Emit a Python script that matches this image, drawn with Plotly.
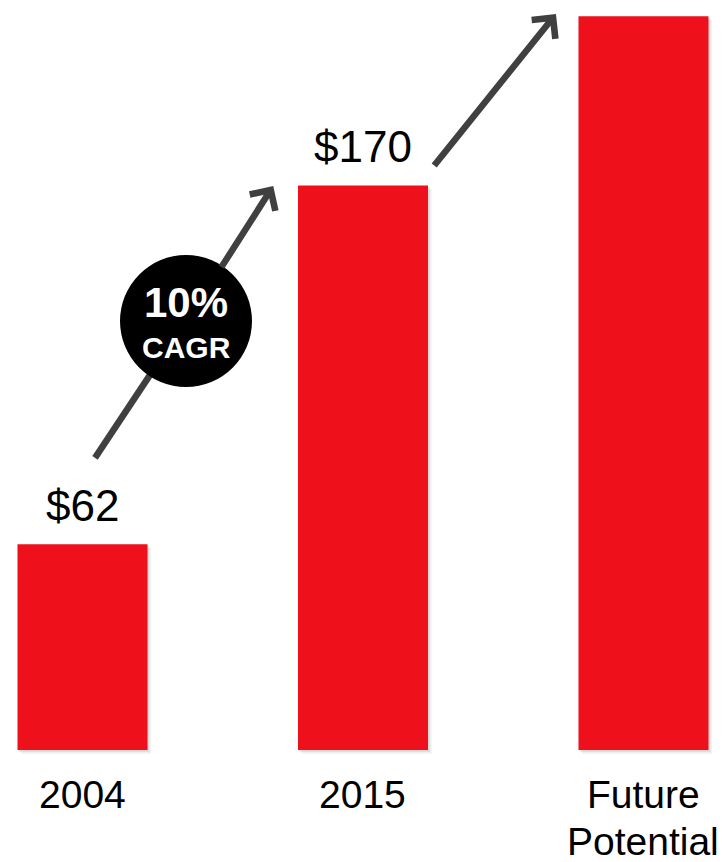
import plotly.graph_objects as go

# Revenue by period ($)
categories = ["2004", "2015", "Future Potential"]
revenue = [62, 170, 221]
value_labels = ["$62", "$170", ""]
cagr_lines = ["10%", "CAGR"]

BAR_RED = "#EE111B"
ARROW_GREY = "#404040"
FONT = "Liberation Sans, Arial, sans-serif"

W, H = 722, 862
X_RANGE = [-0.2941, 2.2799]
Y_RANGE = [-3, 225.9]
BAR_W = 0.4635

x = list(range(len(categories)))

fig = go.Figure()

# faint drop shadow under each bar
for dx, dy, alpha in [(0.013, -1.1, 0.06), (0.006, -0.5, 0.10)]:
    fig.add_bar(
        x=x, y=revenue, base=dy, width=BAR_W, offset=-BAR_W / 2 + dx,
        marker=dict(color=f"rgba(0,0,0,{alpha})", line_width=0),
        hoverinfo="skip", showlegend=False,
    )

fig.add_bar(
    x=x, y=revenue, width=BAR_W, offset=-BAR_W / 2,
    marker=dict(color=BAR_RED, line_width=0),
    hovertemplate="%{y}<extra></extra>", showlegend=False,
)

# value labels above the bars
for i, t in enumerate(value_labels):
    if t:
        fig.add_annotation(
            x=i, y=revenue[i], text=t, showarrow=False,
            yanchor="middle", yshift=39,
            font=dict(family=FONT, size=44, color="#000000"),
        )

# category labels under the baseline (one annotation per line)
for i, c in enumerate(categories):
    for j, line in enumerate(c.split(" ")):
        fig.add_annotation(
            x=i, y=0, text=line, showarrow=False,
            yanchor="middle", yshift=-44 - j * 47,
            font=dict(family=FONT, size=39, color="#000000"),
        )

# growth arrows: tail/tip positions in data units
arrow1_tail, arrow1_tip = (0.0446, 88.0), (0.680, 169.9)
badge_center = (0.369, 129.2)
badge_edge = (0.492, 145.0)
arrow2_tail, arrow2_tip = (1.2496, 175.6), (1.688, 221.7)

# lower part of the first arrow runs underneath the badge
fig.add_shape(
    type="line", xref="x", yref="y",
    x0=arrow1_tail[0], y0=arrow1_tail[1], x1=badge_edge[0], y1=badge_edge[1],
    line=dict(color=ARROW_GREY, width=6.5),
)
fig.add_shape(
    type="circle", xref="x", yref="y",
    xsizemode="pixel", ysizemode="pixel",
    xanchor=badge_center[0], yanchor=badge_center[1],
    x0=-66, x1=66, y0=-66, y1=66,
    fillcolor="#000000", line=dict(color="#000000", width=0),
)

for tail, tip in [(badge_edge, arrow1_tip), (arrow2_tail, arrow2_tip)]:
    fig.add_annotation(
        x=tip[0], y=tip[1], ax=tail[0], ay=tail[1],
        xref="x", yref="y", axref="x", ayref="y",
        text="", showarrow=True, arrowhead=4, arrowsize=0.9,
        arrowwidth=6.5, arrowcolor=ARROW_GREY,
    )

# CAGR badge text
for txt, size, shift in [(cagr_lines[0], 42, 19), (cagr_lines[1], 30, -26)]:
    fig.add_annotation(
        x=badge_center[0], y=badge_center[1], text=f"<b>{txt}</b>",
        showarrow=False, yanchor="middle", yshift=shift,
        font=dict(family=FONT, size=size, color="#FFFFFF"),
    )

fig.update_layout(
    width=W, height=H,
    margin=dict(l=0, r=0, t=0, b=102),
    paper_bgcolor="#FFFFFF", plot_bgcolor="#FFFFFF",
    barmode="overlay",
    xaxis=dict(range=X_RANGE, visible=False, fixedrange=True),
    yaxis=dict(range=Y_RANGE, visible=False, fixedrange=True),
    showlegend=False,
)

fig.write_html("out.html")
